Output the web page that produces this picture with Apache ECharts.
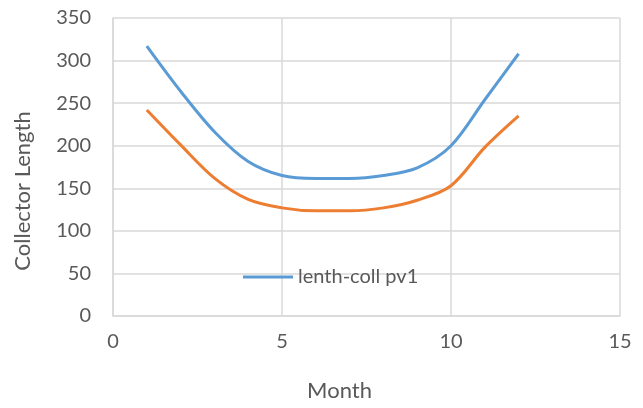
<!DOCTYPE html>
<html>
<head>
<meta charset="utf-8">
<script src="https://cdn.jsdelivr.net/npm/echarts@6/dist/echarts.min.js"></script>
<style>
html,body{margin:0;padding:0;background:#fff;}
#chart{width:643px;height:408px;}
</style>
</head>
<body>
<div id="chart"></div>
<script>
var months = [1,2,3,4,5,6,7,8,9,10,11,12];
var blueName = 'lenth-coll pv1';
var blueValues = [317, 264, 216.5, 181.5, 165, 161.5, 161.5, 165, 174, 200, 254, 308];
var orangeName = 'lenth-coll pv2';
var orangeValues = [242, 201, 162, 137, 127, 123.5, 123.5, 127, 136, 153, 198, 235];
var xTitle = 'Month';
var yTitle = 'Collector Length';

function pairs(xs, ys){ return xs.map(function(x,i){ return [x, ys[i]]; }); }

var font = 'Lato, "Open Sans", sans-serif';
var gridColor = '#d9d9d9';
var textColor = '#595959';

var chart = echarts.init(document.getElementById('chart'));
chart.setOption({
  animation: false,
  backgroundColor: '#ffffff',
  grid: {left: 113, right: 23, top: 18, bottom: 92},
  legend: {
    data: [blueName],
    left: 238, top: 262,
    itemWidth: 50, itemHeight: 3, itemGap: 10,
    icon: 'rect',
    textStyle: {fontFamily: font, fontSize: 20, color: textColor},
    itemStyle: {color: '#5B9BD5'}
  },
  xAxis: {
    type: 'value', min: 0, max: 15, interval: 5,
    name: xTitle, nameLocation: 'middle', nameGap: 64,
    nameTextStyle: {fontFamily: font, fontSize: 22, color: textColor, padding: [0, 54, 0, 0]},
    axisLine: {show: true, lineStyle: {color: gridColor, width: 1.5}},
    axisTick: {show: false},
    axisLabel: {fontFamily: font, fontSize: 20, color: textColor, margin: 16},
    splitLine: {show: true, lineStyle: {color: gridColor, width: 1.5}}
  },
  yAxis: {
    type: 'value', min: 0, max: 350, interval: 50,
    name: yTitle, nameLocation: 'middle', nameGap: 79,
    nameTextStyle: {fontFamily: font, fontSize: 22, color: textColor, padding: [0, 48, 0, 0]},
    axisLine: {show: true, lineStyle: {color: gridColor, width: 1.5}},
    axisTick: {show: false},
    axisLabel: {fontFamily: font, fontSize: 20, color: textColor, margin: 22},
    splitLine: {show: true, lineStyle: {color: gridColor, width: 1.5}}
  },
  series: [
    {
      name: blueName, type: 'line', data: pairs(months, blueValues),
      smooth: 0.33, showSymbol: false, symbol: 'none',
      lineStyle: {color: '#5B9BD5', width: 3}, itemStyle: {color: '#5B9BD5'}
    },
    {
      name: orangeName, type: 'line', data: pairs(months, orangeValues),
      smooth: 0.33, showSymbol: false, symbol: 'none',
      lineStyle: {color: '#ED7D31', width: 3}, itemStyle: {color: '#ED7D31'}
    }
  ]
});
</script>
</body>
</html>
